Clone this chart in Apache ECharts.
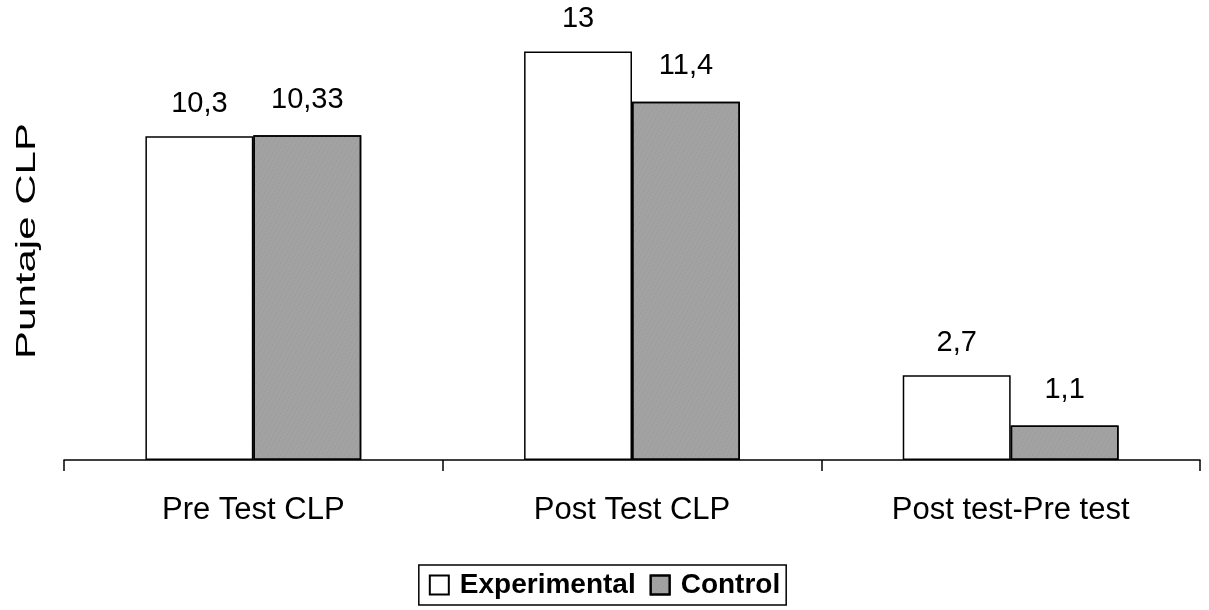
<!DOCTYPE html>
<html><head><meta charset="utf-8">
<script src="https://cdn.jsdelivr.net/npm/echarts@6/dist/echarts.min.js"></script>
<style>html,body{margin:0;padding:0;background:#fff}#c{width:1209px;height:610px}</style>
</head><body><div id="c"></div>
<script>
const categories = ['Pre Test CLP', 'Post Test CLP', 'Post test-Pre test'];
const experimental = [10.3, 13, 2.7];
const control = [10.33, 11.4, 1.1];
const yTitle = 'Puntaje CLP';
const fmt = v => String(v).replace('.', ',');

const FONT = 'Liberation Sans, Arial, sans-serif';
const chart = echarts.init(document.getElementById('c'));
const lbl = d => ({show: true, position: 'top', distance: d, color: '#000', fontFamily: FONT, fontSize: 29, formatter: p => fmt(p.value)});
chart.setOption({
  animation: false,
  grid: {left: 64, right: 9, top: 20, bottom: 150},
  xAxis: {
    type: 'category', data: categories,
    axisLine: {lineStyle: {color: '#000', width: 1.5}},
    axisTick: {show: true, length: 11, lineStyle: {color: '#000', width: 1.5}},
    axisLabel: {color: '#000', fontFamily: FONT, fontSize: 31, margin: 35}
  },
  yAxis: {
    type: 'value', min: 0, max: 14,
    axisLine: {show: false}, axisTick: {show: false}, axisLabel: {show: false}, splitLine: {show: false}
  },
  graphic: [{
    type: 'text', x: 27, y: 241, rotation: Math.PI / 2, scaleX: 1.5,
    style: {text: yTitle, fill: '#000', font: '28px ' + FONT, align: 'center', verticalAlign: 'middle'}
  }],
  legend: {
    bottom: 5, left: 'center',
    data: ['Experimental', 'Control'],
    icon: 'rect', itemWidth: 19, itemHeight: 19, itemGap: 14,
    borderColor: '#000', borderWidth: 1.5, padding: [5, 6, 5, 10],
    textStyle: {color: '#000', fontFamily: FONT, fontSize: 28, fontWeight: 'bold', lineHeight: 30, padding: [0, 0, 0, 6]}
  },
  series: [
    {name: 'Experimental', type: 'bar', data: experimental, barGap: '0%', barCategoryGap: '43%',
     itemStyle: {color: '#fff', borderColor: '#000', borderWidth: 1.5}, label: lbl(18)},
    {name: 'Control', type: 'bar', data: control,
     itemStyle: {color: '#a2a2a2', borderColor: '#000', borderWidth: 1.5,
       decal: {symbol: 'rect', symbolSize: 0.7, color: 'rgba(70,70,70,0.35)', dashArrayX: [1, 3], dashArrayY: [1, 2], rotation: 0.5}},
     label: lbl(21)}
  ]
});
</script></body></html>
